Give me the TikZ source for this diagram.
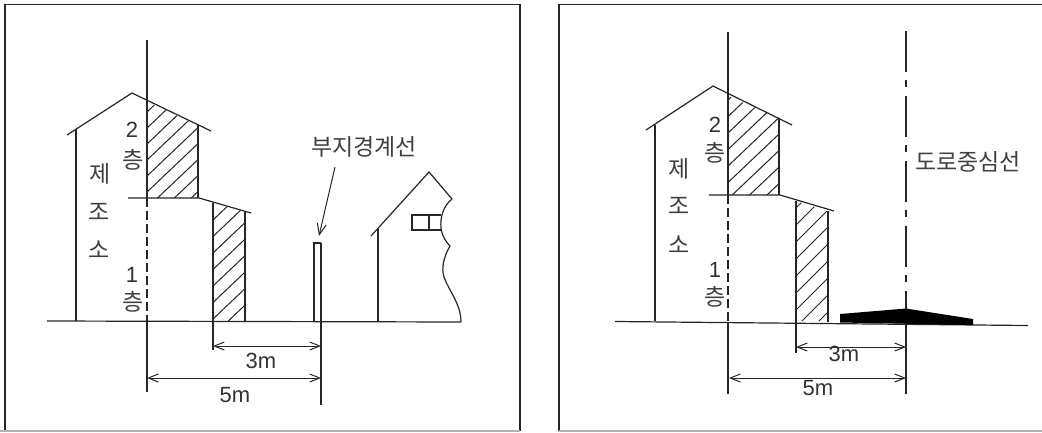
\documentclass[tikz,border=0pt]{standalone}
\usepackage{fontspec}
\setmainfont{Liberation Sans}
\newfontfamily\krfont{Noto Sans CJK KR}
\usepackage{tikz}
\usetikzlibrary{arrows.meta}
\tikzstyle{line} = [line width=1.2pt,black!85]
\tikzstyle{hatchline} = [line width=1pt,black!85]
\tikzstyle{frame} = [line width=1.3pt,black!85]
\tikzstyle{arrow} = [line width=1pt,black!85,{Straight Barb[length=10pt,width=8pt]}-{Straight Barb[length=10pt,width=8pt]}]
\tikzstyle{leader} = [line width=1pt,black!85,-{Straight Barb[length=11pt,width=9pt]}]
\tikzstyle{kor} = [inner sep=0pt,text=black!75,font=\krfont\fontsize{23}{23}\selectfont]
\tikzstyle{dim} = [inner sep=0pt,text=black!80,font=\fontsize{22}{22}\selectfont]

\begin{document}
\begin{tikzpicture}[x=1pt,y=-1pt]
	\useasboundingbox (0,0) rectangle (1042,432);
	\fill[white] (0,0) rectangle (1042,432);
	%Frames
	\draw[frame] (5,431) -- (5,4.5) -- (520,4.5) -- (520,431);
	\draw[frame] (559,431) -- (559,4.5) -- (1050,4.5);
	\draw[frame,black!30] (0,431) -- (520,431);
	\draw[frame,black!30] (559,431) -- (1042,431);

	%Left hatching
	\begin{scope}
		\clip (147,102) -- (198,125) -- (198,198) -- (147,198) -- cycle;
		\foreach \k in {0,...,8}
			\draw[hatchline] (147,{112+16*\k}) -- ++(80,-76);
	\end{scope}
	\begin{scope}
		\clip (213,203) -- (245,212) -- (245,321) -- (213,321) -- cycle;
		\foreach \k in {0,...,8}
			\draw[hatchline] (213,{220+16.5*\k}) -- ++(60,-57);
	\end{scope}

	%Left building
	\draw[line] (67,135) -- (132,93) -- (211,131);
	\draw[line] (76,129) -- (76,321);
	\draw[line] (198,125) -- (198,198);
	\draw[line] (128,198) -- (199,198) -- (251,213);
	\draw[line] (213,203) -- (213,321);
	\draw[line] (245,212) -- (245,321);
	\draw[line] (47,321) -- (461,322);
	\draw[line] (147,40) -- (147,198);
	\draw[line,dash pattern=on 9pt off 4pt] (147,198) -- (147,321);
	\draw[line] (147,321) -- (147,392);

	%Left fence and house
	\draw[line] (314,321) -- (314,243) -- (321,243);
	\draw[line] (321,243) -- (321,405);
	\draw[line] (371,236) -- (429,172) -- (452,199);
	\draw[line] (378,229) -- (378,322);
	\draw[line] (452,199) .. controls (443,206) and (440,218) .. (441,228)
		.. controls (442,236) and (446,242) .. (450,246)
		.. controls (444,256) and (441,268) .. (444,277)
		.. controls (449,291) and (461,304) .. (461,322);
	\draw[line] (441,215) -- (412,215) -- (412,230) -- (441,230);
	\draw[line] (429,215) -- (429,230);

	%Left dimensions
	\coordinate (a3l) at (213,346);
	\coordinate (b3l) at (321,346);
	\coordinate (a5l) at (147,378);
	\coordinate (b5l) at (321,378);
	\draw[line] (213,321) -- (213,350);
	\draw[arrow] (a3l) -- (b3l);
	\draw[arrow] (a5l) -- (b5l);

	%Left labels
	\node[kor] (jeL) at (100,174) {제};
	\node[kor] (joL) at (99,212) {조};
	\node[kor] (soL) at (99,250) {소};
	\node[dim] (twoL) at (132,130) {2};
	\node[kor] (cheung2L) at (133,160) {층};
	\node[dim] (oneL) at (132,275) {1};
	\node[kor] (cheung1L) at (133,302) {층};
	\node[dim] (threeL) at (261,361) {3m};
	\node[dim] (fiveL) at (235,395) {5m};
	\node[kor] (boundary) at (364,147) {부지경계선};
	\coordinate (boundaryEnd) at (319,236);
	\draw[leader] (335,167) -- (boundaryEnd);

	%Right hatching
	\begin{scope}
		\clip (728,96) -- (779,118) -- (779,195) -- (728,195) -- cycle;
		\foreach \k in {0,...,8}
			\draw[hatchline] (728,{100+16.5*\k}) -- ++(80,-76);
	\end{scope}
	\begin{scope}
		\clip (796,201) -- (827,211) -- (827,321) -- (796,321) -- cycle;
		\foreach \k in {0,...,8}
			\draw[hatchline] (796,{208+17*\k}) -- ++(60,-60);
	\end{scope}

	%Right building
	\draw[line] (646,130) -- (713,86) -- (792,125);
	\draw[line] (655,125) -- (655,321);
	\draw[line] (779,118) -- (779,195);
	\draw[line] (709,195) -- (780,195) -- (834,211);
	\draw[line] (796,201) -- (796,322);
	\draw[line] (828,211) -- (828,322);
	\draw[line] (615,321.5) -- (1028,325.5);
	\draw[line] (728,32) -- (728,195);
	\draw[line,dash pattern=on 9pt off 4pt] (728,195) -- (728,322);
	\draw[line] (728,322) -- (728,394);

	%Right road
	\draw[line,dash pattern=on 41pt off 8pt on 7pt off 9pt] (906,31) -- (906,310);
	\draw[line] (906,310) -- (906,394);
	\fill[black] (840,314) -- (906,308.5) -- (973,319) -- (973,325) -- (840,322.5) -- cycle;

	%Right dimensions
	\coordinate (a3r) at (796,347);
	\coordinate (b3r) at (906,347);
	\coordinate (a5r) at (729,378);
	\coordinate (b5r) at (906,378);
	\draw[line] (796,322) -- (796,353);
	\draw[arrow] (a3r) -- (b3r);
	\draw[arrow] (a5r) -- (b5r);

	%Right labels
	\node[kor] (jeR) at (679,169) {제};
	\node[kor] (joR) at (679,206) {조};
	\node[kor] (soR) at (679,245) {소};
	\node[dim] (twoR) at (715,125) {2};
	\node[kor] (cheung2R) at (715,153) {층};
	\node[dim] (oneR) at (715,270) {1};
	\node[kor] (cheung1R) at (715,297) {층};
	\node[dim] (threeR) at (844,354) {3m};
	\node[dim] (fiveR) at (818,388) {5m};
	\node[kor] (center) at (968,162) {도로중심선};
\end{tikzpicture}
\end{document}
